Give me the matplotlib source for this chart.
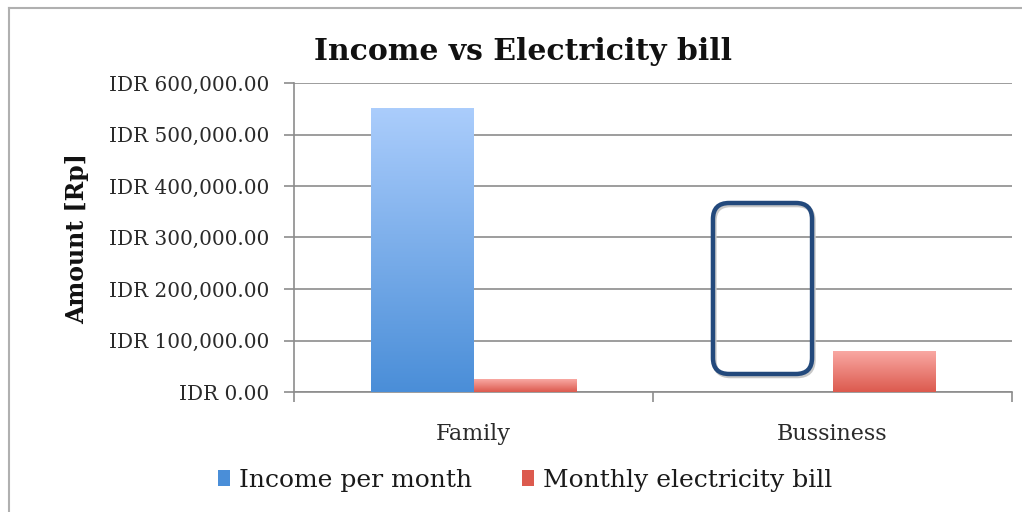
import matplotlib
matplotlib.use("Agg")
import matplotlib.pyplot as plt
import numpy as np
from matplotlib.patches import FancyBboxPatch, Patch
from matplotlib.colors import LinearSegmentedColormap

plt.rcParams['font.family'] = ['DejaVu Serif']

categories = ['Family', 'Bussiness']
income = [550000, 0]
electricity = [25000, 78000]
series_names = ['Income per month', 'Monthly electricity bill']
yticks = [0, 100000, 200000, 300000, 400000, 500000, 600000]

# gradient colours (top, bottom)
blue_grad = ('#abcdfc', '#4a8ed8')
red_grad = ('#f9a8a3', '#dc5a4e')

fig = plt.figure(figsize=(10.22, 5.12), dpi=100)
ax = fig.add_axes([294 / 1022, 120 / 512, 718 / 1022, 309 / 512])

x = np.arange(len(categories))
w = 0.2857
bars_inc = ax.bar(x - w / 2, income, width=w, color='none', zorder=3)
bars_ele = ax.bar(x + w / 2, electricity, width=w, color='none', zorder=3)


def fill_gradient(bars, cols):
    cmap = LinearSegmentedColormap.from_list('g', [cols[1], cols[0]])
    grad = np.linspace(0, 1, 256).reshape(-1, 1)
    for b in bars:
        h = b.get_height()
        if h <= 0:
            continue
        x0 = b.get_x()
        ax.imshow(grad, cmap=cmap, origin='lower', aspect='auto',
                  extent=[x0, x0 + b.get_width(), 0, h], zorder=3)


fill_gradient(bars_inc, blue_grad)
fill_gradient(bars_ele, red_grad)

ax.set_xlim(-0.5, len(categories) - 0.5)
ax.set_ylim(0, 600000)
ax.set_yticks(yticks)
ax.set_yticklabels(['IDR {:,.2f}'.format(v) for v in yticks], fontsize=14.4, color='#2a2a2a')
ax.yaxis.grid(True, color='#8c8c8c', linewidth=1.2, zorder=0)
ax.set_axisbelow(True)

ax.set_xticks(x)
ax.set_xticklabels(categories, fontsize=16, color='#2a2a2a')
ax.set_xticks(np.arange(-0.5, len(categories), 1.0), minor=True)
ax.tick_params(axis='x', which='major', length=0, pad=22)
ax.tick_params(axis='x', which='minor', length=7, width=1.2, color='#8c8c8c', direction='out')
ax.tick_params(axis='y', length=7, width=1.2, color='#8c8c8c', direction='out', pad=11)

for s in ['top', 'right']:
    ax.spines[s].set_visible(False)
for s in ['left', 'bottom']:
    ax.spines[s].set_color('#8c8c8c')
    ax.spines[s].set_linewidth(1.2)

# rounded highlight box around the (empty) business income slot
bx0, bx1, by0, by1 = 0.667, 0.943, 35000, 367000
xr = ax.get_xlim()[1] - ax.get_xlim()[0]
yr = ax.get_ylim()[1] - ax.get_ylim()[0]
aspect = (yr / 309) / (xr / 718)
shadow = FancyBboxPatch((bx0 + 0.004, by0 - 4000), bx1 - bx0, by1 - by0,
                        boxstyle='round,pad=0,rounding_size=0.045', mutation_aspect=aspect,
                        fill=False, edgecolor='#c8c8c8', linewidth=3.2, zorder=4, clip_on=False)
ax.add_patch(shadow)
box = FancyBboxPatch((bx0, by0), bx1 - bx0, by1 - by0,
                     boxstyle='round,pad=0,rounding_size=0.045', mutation_aspect=aspect,
                     fill=False, edgecolor='#23497c', linewidth=3.2, zorder=5, clip_on=False)
ax.add_patch(box)

fig.text(523 / 1022, 1 - 52 / 512, 'Income vs Electricity bill', fontsize=21.5,
         fontweight='bold', ha='center', va='center', color='#111111')
fig.text(77 / 1022, 1 - 238 / 512, 'Amount [Rp]', fontsize=17, fontweight='bold',
         rotation=90, ha='center', va='center', color='#111111')

handles = [Patch(facecolor=blue_grad[1]), Patch(facecolor=red_grad[1])]
fig.legend(handles, series_names, loc='center', bbox_to_anchor=(525 / 1022, 1 - 480 / 512),
           ncol=2, frameon=False, fontsize=18, handlelength=0.5, handleheight=0.6,
           handletextpad=0.35, columnspacing=2.0, labelcolor='#1a1a1a')

# outer chart frame (top and left edges visible)
fig.add_artist(plt.Line2D([9 / 1022, 1.0], [1 - 8 / 512, 1 - 8 / 512],
                          transform=fig.transFigure, color='#b0b0b0', linewidth=1.5))
fig.add_artist(plt.Line2D([9 / 1022, 9 / 1022], [0.0, 1 - 8 / 512],
                          transform=fig.transFigure, color='#b0b0b0', linewidth=1.5))

fig.savefig('out.png', dpi=100)
